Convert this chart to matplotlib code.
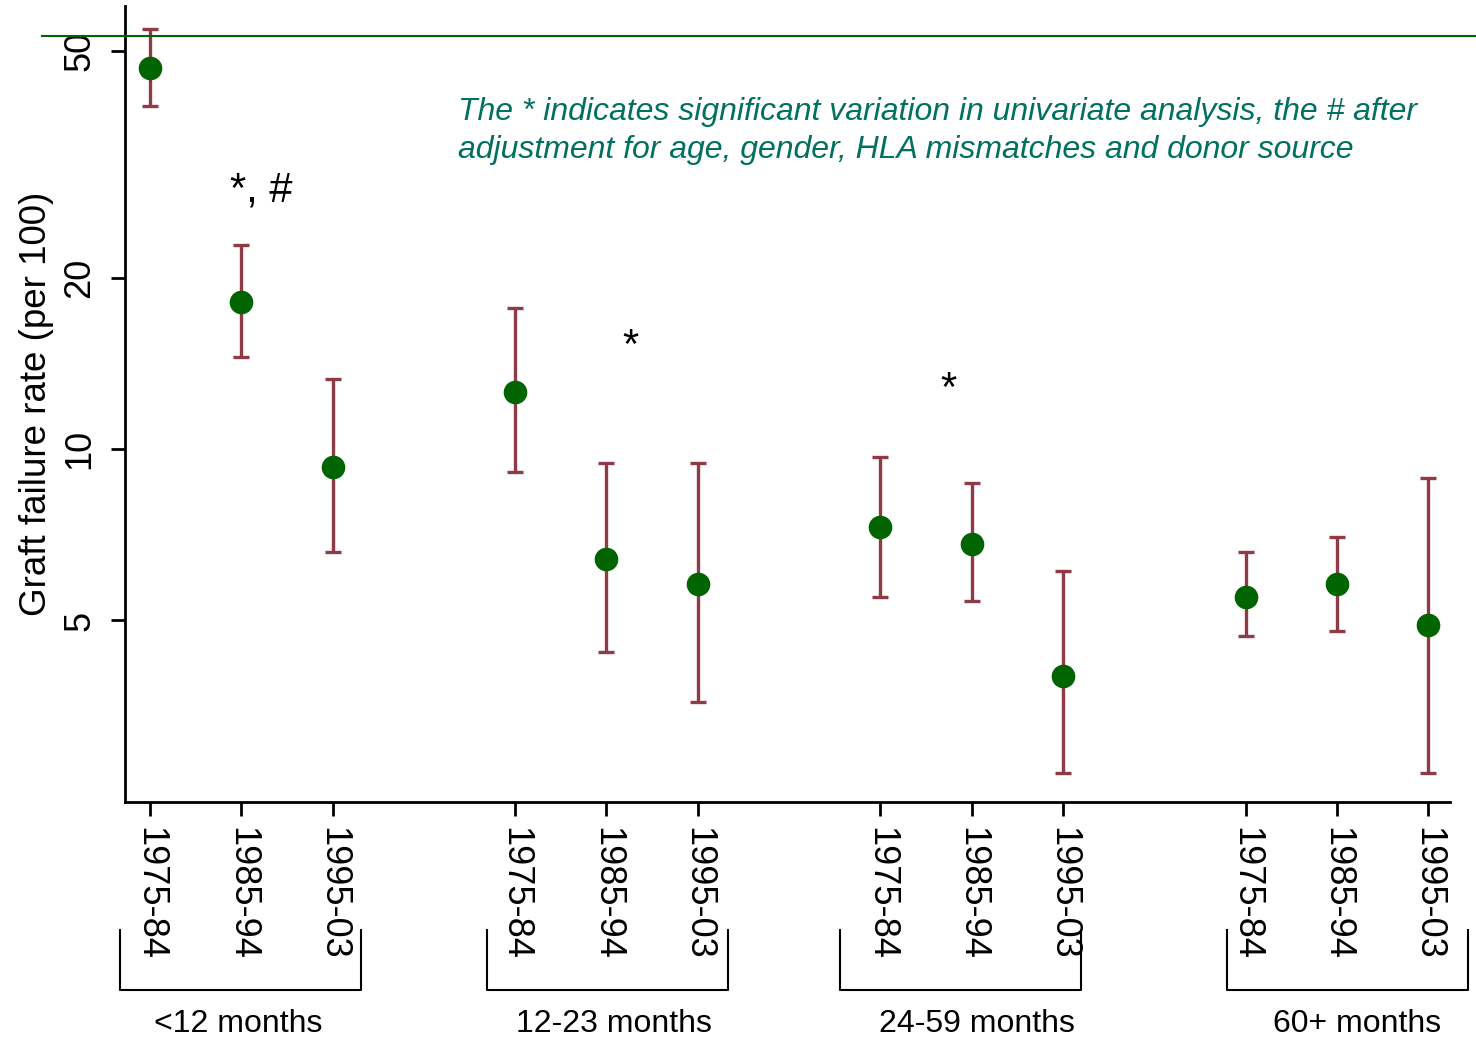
import numpy as np
import matplotlib
matplotlib.use('Agg')
import matplotlib.pyplot as plt
from matplotlib.lines import Line2D

plt.rcParams['font.family'] = ['Liberation Sans', 'DejaVu Sans']

# Dati
periodi = ['1975-84', '1985-94', '1995-03'] * 4
gruppi = ['<12 months', '12-23 months', '24-59 months', '60+ months']
posizioni = [1, 2, 3, 5, 6, 7, 9, 10, 11, 13, 14, 15]
tasso = [46.7, 18.1, 9.3, 12.6, 6.4, 5.8, 7.3, 6.8, 4.0, 5.5, 5.8, 4.9]
ic_basso = [40.0, 14.5, 6.6, 9.1, 4.4, 3.6, 5.5, 5.4, 2.7, 4.7, 4.8, 2.7]
ic_alto = [54.7, 22.8, 13.3, 17.7, 9.45, 9.45, 9.7, 8.7, 6.1, 6.6, 7.0, 8.9]

# Simboli di significativita
sig_testo = ['*, #', '*', '*']
sig_x = [2.22, 6.26, 9.74]
sig_y = [28.5, 15.1, 12.7]

rosso = '#8e3b46'
verde = '#006400'

fig = plt.figure(figsize=(14.76, 10.46), dpi=100)
ax = fig.add_axes([0.0847, 0.2333, 0.8977, 0.761])

tasso = np.array(tasso)
err = [tasso - np.array(ic_basso), np.array(ic_alto) - tasso]
ax.errorbar(posizioni, tasso, yerr=err, fmt='none', ecolor=rosso,
            elinewidth=2.4, capsize=6, capthick=2.4, zorder=2)
ax.plot(posizioni, tasso, 'o', color=verde, markersize=16, zorder=3)

ax.set_yscale('log')
ax.set_ylim(2.4, 60)
ax.set_xlim(0.726, 15.24)
ax.set_yticks([5, 10, 20, 50])
ax.set_yticklabels(['5', '10', '20', '50'], rotation=90, va='center', fontsize=26)
ax.minorticks_off()
ax.set_xticks(posizioni)
ax.set_xticklabels(periodi, rotation=270, va='top', ha='center', fontsize=26)
ax.tick_params(axis='both', length=10, width=2, direction='out', pad=10)
ax.tick_params(axis='x', pad=8)
ax.set_ylabel('Graft failure rate (per 100)', fontsize=26.5, labelpad=6)

for s in ['top', 'right']:
    ax.spines[s].set_visible(False)
for s in ['left', 'bottom']:
    ax.spines[s].set_linewidth(2)

for t, x, y in zip(sig_testo, sig_x, sig_y):
    ax.text(x, y, t, fontsize=30, ha='center', va='center')

fig.text(458 / 1476, 1 - 131 / 1046,
         'The * indicates significant variation in univariate analysis, the # after\n'
         'adjustment for age, gender, HLA mismatches and donor source',
         fontsize=23, style='italic', color='#007060',
         va='center', ha='left', linespacing=1.38)

# linea orizzontale verde in alto
fig.add_artist(Line2D([42 / 1476, 1.0], [1 - 36 / 1046] * 2, color=verde, lw=1.5))

# parentesi dei gruppi
parentesi_sx = [120, 487, 840, 1227]
for xs in parentesi_sx:
    x0 = xs / 1476
    x1 = (xs + 241) / 1476
    yt = 1 - 930 / 1046
    yb = 1 - 990 / 1046
    fig.add_artist(Line2D([x0, x0, x1, x1], [yt, yb, yb, yt], color='black', lw=1.5))

etichette_x = [238, 614, 977, 1357]
for g, xp in zip(gruppi, etichette_x):
    fig.text(xp / 1476, 1 - 1024 / 1046, g, fontsize=23, ha='center', va='center')

plt.savefig('out.png', dpi=100)
